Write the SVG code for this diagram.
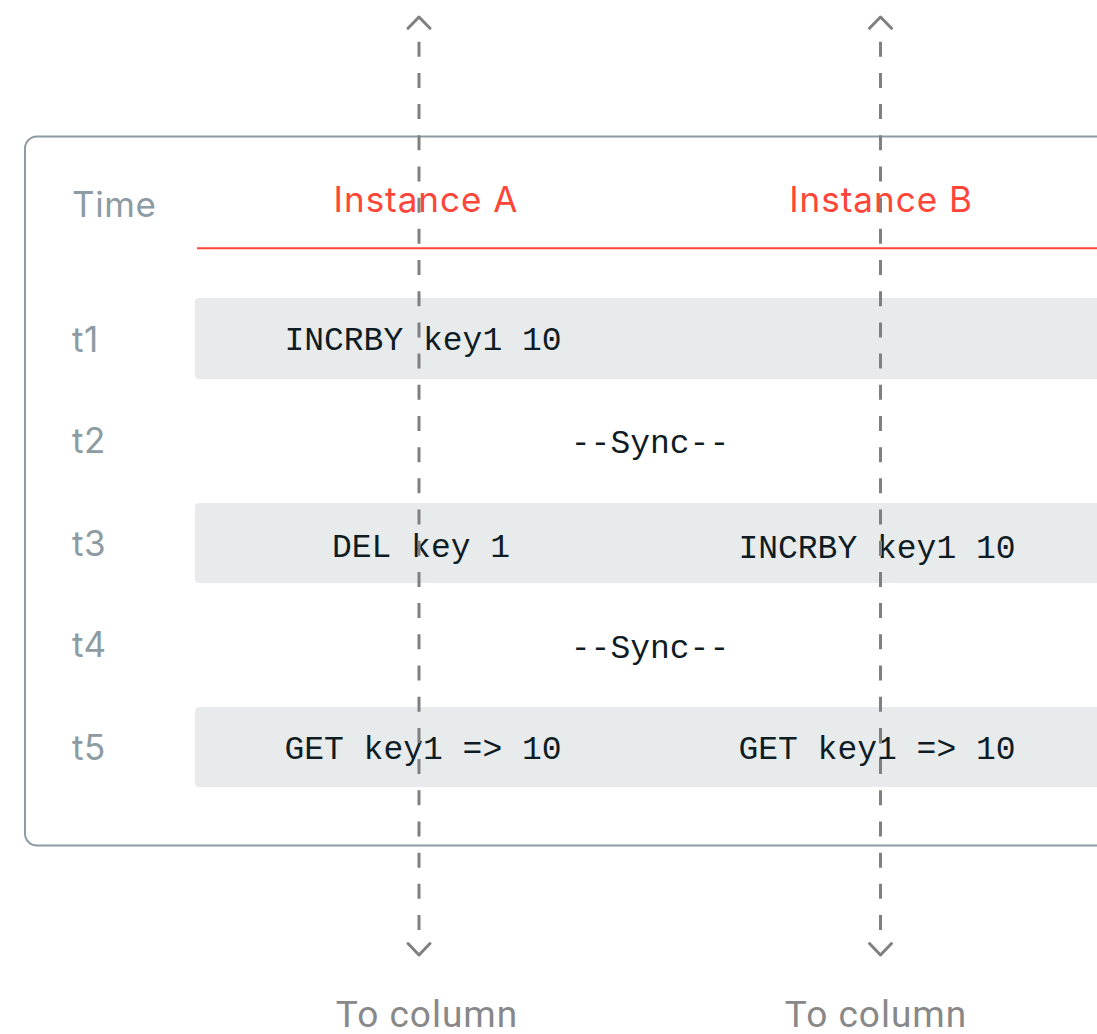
<svg xmlns="http://www.w3.org/2000/svg" width="1097" height="1034" viewBox="0 0 1097 1034">
<style>
.lbl{font-family:Inter,"Noto Sans",sans-serif;font-size:35px;fill:#8d9ba2;letter-spacing:0.6px}
.inst{font-family:Inter,"Noto Sans",sans-serif;font-size:35px;fill:#ff4438;text-anchor:middle;letter-spacing:1px}
.code{font-family:"Liberation Mono","DejaVu Sans Mono",monospace;font-size:33px;fill:#0f1c24;text-anchor:middle}
.row{fill:#e8ebec}
.dash{stroke:#808080;stroke-width:3;fill:none;stroke-dasharray:15 16.19}
.chev{stroke:#808080;stroke-width:3;fill:none;stroke-linecap:round;stroke-linejoin:round}
.foot{font-family:Roboto,"Liberation Sans",sans-serif;font-size:37px;fill:#888888;text-anchor:middle;letter-spacing:1px}
</style>
<g id="frame">
<rect x="25" y="136.5" width="1100" height="709" rx="12" fill="#ffffff" stroke="#8d9ba2" stroke-width="2"/>
</g>
<g id="header">
<text class="lbl" x="72" y="217">Time</text>
<text class="inst" x="426" y="212">Instance A</text>
<text class="inst" x="881" y="212">Instance B</text>
<line x1="197" y1="248.3" x2="1097" y2="248.3" stroke="#ff4438" stroke-width="2"/>
</g>
<g id="row-t1">
<rect class="row" x="195" y="298" width="910" height="81" rx="4"/>
<text class="lbl" x="72" y="352">t1</text>
<text class="code" x="423" y="350">INCRBY key1 10</text>
</g>
<g id="row-t2">
<text class="lbl" x="72" y="453">t2</text>
<text class="code" x="650" y="453">--Sync--</text>
</g>
<g id="row-t3">
<rect class="row" x="195" y="503" width="910" height="80" rx="4"/>
<text class="lbl" x="72" y="556">t3</text>
<text class="code" x="421" y="557">DEL key 1</text>
<text class="code" x="877" y="558">INCRBY key1 10</text>
</g>
<g id="row-t4">
<text class="lbl" x="72" y="657">t4</text>
<text class="code" x="650" y="658">--Sync--</text>
</g>
<g id="row-t5">
<rect class="row" x="195" y="707" width="910" height="80" rx="4"/>
<text class="lbl" x="72" y="760">t5</text>
<text class="code" x="423" y="759">GET key1 =&gt; 10</text>
<text class="code" x="877" y="759">GET key1 =&gt; 10</text>
</g>
<g id="connectors">
<path class="dash" d="M419 41.7 V930.5"/>
<path class="chev" d="M408 28.3 L419 17 L430 28.3"/>
<path class="chev" d="M408 943.5 L419 955 L430 943.5"/>
<path class="dash" d="M880.5 41.7 V930.5"/>
<path class="chev" d="M869.5 28.3 L880.5 17 L891.5 28.3"/>
<path class="chev" d="M869.5 943.5 L880.5 955 L891.5 943.5"/>
</g>
<g id="footer">
<text class="foot" x="427" y="1027">To column</text>
<text class="foot" x="876" y="1027">To column</text>
</g>
</svg>
